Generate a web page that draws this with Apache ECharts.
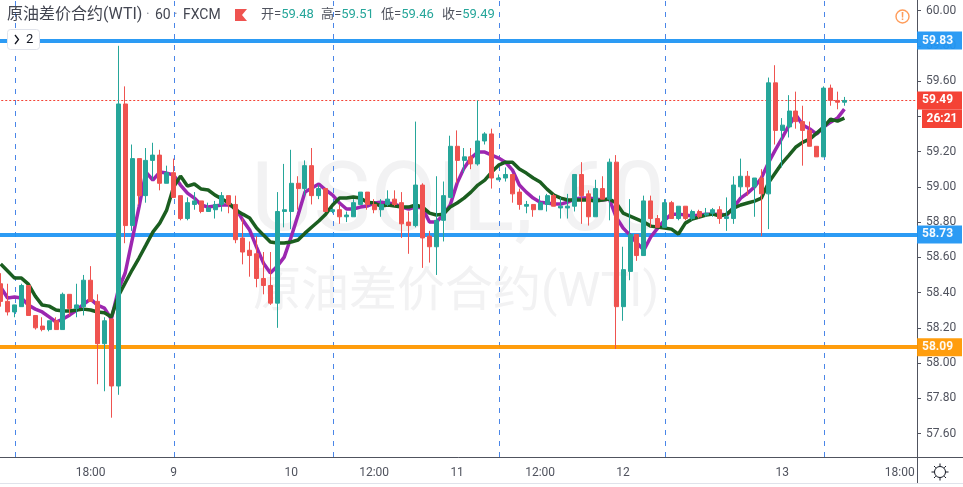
<!DOCTYPE html>
<html><head><meta charset="utf-8">
<style>html,body{margin:0;padding:0;background:#fff}#c{width:963px;height:487px}</style>
<script src="https://cdn.jsdelivr.net/npm/echarts@6/dist/echarts.min.js"></script>
</head><body><div id="c"></div>
<script>
const opens=[58.45,58.35,58.29,58.32,58.44,58.27,58.21,58.19,58.24,58.19,58.39,58.31,58.32,58.47,58.35,58.11,58.25,57.87,59.47,58.78,59.16,58.95,59.15,59.18,59.02,59.08,58.95,58.82,58.90,58.92,58.86,58.87,58.90,58.95,58.90,58.71,58.64,58.62,58.48,58.44,58.34,58.86,58.86,59.02,58.99,59.12,58.95,58.99,58.86,58.87,58.83,58.83,58.90,58.97,58.90,58.87,58.90,58.93,58.91,58.80,58.78,59.01,58.72,58.66,58.81,58.94,59.23,59.15,59.17,59.13,59.26,59.30,59.04,59.05,59.07,58.97,58.89,58.90,58.87,58.90,58.95,58.88,58.88,58.89,59.07,58.96,58.83,58.99,58.93,59.14,58.32,58.52,58.73,58.61,58.92,58.82,58.77,58.91,58.82,58.89,58.82,58.86,58.84,58.85,58.87,58.82,58.82,59.00,59.06,59.00,59.05,58.96,59.59,59.32,59.34,59.43,59.37,59.32,59.23,59.17,59.56,59.49,59.48];
const closes=[58.35,58.29,58.33,58.44,58.27,58.20,58.19,58.24,58.19,58.39,58.31,58.33,58.47,58.35,58.11,58.24,57.87,59.47,58.78,59.16,58.95,59.15,59.18,59.02,59.08,58.94,58.82,58.91,58.92,58.86,58.88,58.90,58.95,58.90,58.70,58.63,58.61,58.48,58.44,58.34,58.86,58.87,59.02,58.99,59.12,58.95,58.99,58.86,58.87,58.83,58.84,58.91,58.97,58.90,58.87,58.90,58.93,58.90,58.79,58.78,59.01,58.71,58.66,58.81,58.95,59.23,59.15,59.17,59.13,59.26,59.30,59.05,59.05,59.07,58.96,58.90,58.90,58.87,58.91,58.95,58.89,58.89,58.89,59.07,58.95,58.83,58.99,58.93,59.14,58.32,58.53,58.73,58.61,58.92,58.82,58.77,58.91,58.82,58.89,58.82,58.86,58.83,58.85,58.87,58.82,58.83,59.01,59.06,59.00,59.05,58.96,59.59,59.32,59.35,59.43,59.37,59.32,59.23,59.17,59.56,59.49,59.48,59.49];
const lows=[58.32,58.27,58.26,58.32,58.27,58.19,58.18,58.18,58.19,58.19,58.27,58.26,58.27,58.35,57.88,57.84,57.69,57.82,58.68,58.75,58.90,58.91,59.04,58.98,59.02,58.94,58.81,58.81,58.87,58.85,58.86,58.82,58.86,58.85,58.68,58.56,58.49,58.43,58.39,58.33,58.20,58.77,58.76,58.87,58.95,58.90,58.93,58.86,58.85,58.79,58.80,58.83,58.90,58.87,58.85,58.83,58.89,58.89,58.71,58.62,58.77,58.54,58.57,58.50,58.69,58.94,59.02,59.08,59.10,59.12,59.24,58.99,59.04,59.03,58.91,58.87,58.85,58.83,58.87,58.86,58.89,58.82,58.82,58.86,58.79,58.78,58.83,58.93,58.81,58.08,58.24,58.47,58.58,58.61,58.77,58.77,58.77,58.82,58.81,58.81,58.81,58.82,58.83,58.83,58.79,58.75,58.79,58.94,58.95,58.83,58.72,58.76,59.24,59.11,59.28,59.33,59.12,59.23,59.17,59.17,59.46,59.44,59.46];
const highs=[58.51,58.45,58.33,58.45,58.44,58.27,58.26,58.24,58.26,58.40,58.39,58.45,58.50,58.55,58.39,58.26,58.25,59.80,59.57,59.24,59.16,59.22,59.25,59.21,59.12,59.16,58.95,58.94,58.97,58.92,58.91,58.92,58.97,58.95,58.95,58.82,58.69,58.72,58.63,58.63,58.97,59.13,59.21,59.06,59.15,59.22,59.01,58.99,58.88,58.90,58.86,58.93,58.97,58.97,58.93,58.93,58.98,58.98,58.97,58.86,59.37,59.02,58.75,59.06,59.03,59.29,59.32,59.22,59.22,59.49,59.31,59.33,59.07,59.11,59.07,58.99,58.92,58.90,58.95,58.96,58.96,58.94,58.96,59.07,59.14,58.98,59.04,59.06,59.16,59.18,58.66,58.93,58.73,58.95,58.95,58.84,58.93,58.92,58.89,58.89,58.87,58.87,58.88,58.88,58.89,58.94,59.06,59.16,59.09,59.05,59.10,59.62,59.69,59.39,59.52,59.54,59.46,59.37,59.23,59.57,59.58,59.54,59.51];
const maFast=[58.431,58.369,58.375,58.369,58.329,58.306,58.290,58.262,58.233,58.250,58.273,58.301,58.335,58.363,58.329,58.312,58.250,58.414,58.511,58.698,58.885,59.084,59.038,59.084,59.078,59.067,59.010,58.964,58.936,58.897,58.885,58.891,58.897,58.897,58.879,58.811,58.755,58.658,58.567,58.511,58.550,58.601,58.715,58.840,58.970,58.993,59.016,58.982,58.953,58.908,58.874,58.874,58.885,58.891,58.908,58.913,58.908,58.902,58.885,58.874,58.885,58.879,58.800,58.800,58.840,58.897,59.021,59.106,59.163,59.197,59.197,59.180,59.163,59.140,59.095,59.010,58.970,58.936,58.913,58.908,58.902,58.902,58.913,58.931,58.936,58.936,58.931,58.925,58.931,58.828,58.766,58.726,58.681,58.641,58.715,58.766,58.811,58.845,58.845,58.840,58.834,58.840,58.845,58.845,58.845,58.840,58.885,58.936,58.964,58.999,59.050,59.135,59.208,59.277,59.350,59.407,59.350,59.328,59.299,59.339,59.367,59.390,59.441];
const maSlow=[58.562,58.522,58.482,58.482,58.448,58.380,58.329,58.323,58.301,58.295,58.295,58.301,58.306,58.301,58.290,58.285,58.262,58.380,58.454,58.528,58.596,58.669,58.743,58.794,58.868,58.999,59.061,59.004,59.016,58.987,58.982,58.953,58.931,58.908,58.868,58.845,58.823,58.766,58.726,58.687,58.681,58.681,58.687,58.698,58.737,58.772,58.806,58.845,58.897,58.936,58.936,58.942,58.936,58.913,58.908,58.891,58.897,58.891,58.885,58.885,58.897,58.885,58.851,58.840,58.845,58.885,58.908,58.936,58.970,59.010,59.038,59.084,59.123,59.140,59.140,59.101,59.078,59.050,59.027,58.987,58.953,58.936,58.925,58.925,58.925,58.925,58.919,58.925,58.931,58.908,58.851,58.834,58.817,58.800,58.777,58.772,58.766,58.760,58.732,58.794,58.817,58.828,58.840,58.845,58.834,58.845,58.879,58.897,58.908,58.919,58.936,59.021,59.078,59.135,59.180,59.226,59.254,59.271,59.305,59.339,59.384,59.373,59.390];
const bandCount=133;
const categories=Array.from({length:bandCount},(_,i)=>'c'+i);
const tickIndexes=[13,25,42,54,66,78,90,113,130];
const tickLabels=['18:00','9','10','12:00','11','12:00','12','13','18:00'];
const separatorIndexes=[2,25,48,72,96,119];
const priceTicks=[57.6,57.8,58.0,58.2,58.4,58.6,58.8,59.0,59.2,59.4,59.6,59.8,60.0];
const supportLevels=[{v:59.826,c:'#2196f3'},{v:58.727,c:'#2196f3'},{v:58.09,c:'#ff9800'}];
const lastPrice=59.49;
const priceMin=57.467, priceMax=60.06;
const FONT='Roboto, "Noto Sans CJK SC", sans-serif';
const AX='#50535e';
const flagPoints=[[235,9],[247,9],[242,15],[247,21],[235,21]];
const sunTicks=[0,45,90,135,180,225,270,315].map(a=>{const r=a*Math.PI/180;return {type:'line',silent:true,z:30,shape:{x1:940+6*Math.cos(r),y1:472+6*Math.sin(r),x2:940+8.5*Math.cos(r),y2:472+8.5*Math.sin(r)},style:{stroke:'#131722',lineWidth:1}}});
const txt=(x,y,text,size,fill,extra)=>Object.assign({type:'text',x,y,silent:true,z:30,style:{text,font:size+'px '+FONT,fill,textVerticalAlign:'middle'}},extra||{});
const ohlcRow=(x,name,val)=>({type:'text',x,y:15,z:30,silent:true,style:{text:'{a|'+name+'=}{b|'+val+'}',verticalAlign:'middle',rich:{a:{fill:AX,font:'13px '+FONT},b:{fill:'#26a69a',font:'13px '+FONT}}}});
const chart=echarts.init(document.getElementById('c'),null,{renderer:'canvas'});
chart.setOption({
 animation:false,
 backgroundColor:'#fff',
 grid:[
  {left:-2.76,width:919.76,top:0,height:457,outerBoundsMode:'none'},
  {left:-1.76,width:919.76,top:0,height:457,show:false,outerBoundsMode:'none'}
 ],
 xAxis:[
  {type:'category',gridIndex:0,data:categories,boundaryGap:true,
   axisLine:{lineStyle:{color:AX,width:1}},
   axisTick:{alignWithLabel:true,length:4,interval:(i)=>tickIndexes.includes(i),lineStyle:{color:AX}},
   axisLabel:{interval:(i)=>tickIndexes.includes(i),formatter:(v,i)=>{const k=tickIndexes.indexOf(i);return k>=0?tickLabels[k]:''},color:AX,fontFamily:FONT,fontSize:12,margin:10},
   splitLine:{show:false}},
  {type:'category',gridIndex:1,data:categories,show:false}
 ],
 yAxis:[
  {type:'value',gridIndex:0,position:'right',min:priceMin,max:priceMax,scale:true,
   axisLine:{show:true,lineStyle:{color:AX,width:1}},
   axisTick:{show:true,length:4,customValues:priceTicks,lineStyle:{color:AX}},
   axisLabel:{customValues:priceTicks,formatter:(v)=>v.toFixed(2),color:AX,fontFamily:FONT,fontSize:12,margin:9},
   splitLine:{show:false}},
  {type:'value',gridIndex:1,min:priceMin,max:priceMax,show:false}
 ],
 graphic:[
  {type:'group',silent:true,z:-5,children:[
   {type:'text',x:458,y:206,z:-5,style:{text:'USOIL, 60',font:'96px '+FONT,fill:'#f2f2f3',align:'center',verticalAlign:'middle'}},
   {type:'text',x:456,y:294,z:-5,style:{text:'原油差价合约(WTI)',font:'48px '+FONT,fill:'#f2f2f3',align:'center',verticalAlign:'middle'}}
  ]},
  txt(7,15,'原油差价合约(WTI)',16,'#434651'),
  txt(146,15,'·',14,'#9598a1'),
  txt(155,15,'60',14,'#434651'),
  txt(174,15,'·',14,'#9598a1'),
  txt(183,15,'FXCM',14,'#434651'),
  {type:'polygon',silent:true,z:30,shape:{points:flagPoints},style:{fill:'#ef5350'}},
  ohlcRow(261,'开','59.48'),ohlcRow(321,'高','59.51'),ohlcRow(381,'低','59.46'),ohlcRow(442,'收','59.49'),
  {type:'rect',silent:true,z:30,shape:{x:7.5,y:29.5,width:32,height:20,r:3},style:{fill:'#fff',stroke:'#e0e3eb',lineWidth:1}},
  {type:'polyline',silent:true,z:31,shape:{points:[[15,35],[18.5,39.5],[15,44]]},style:{stroke:'#131722',lineWidth:1.3,fill:null}},
  txt(26,40,'2',13,'#131722'),
  {type:'circle',silent:true,z:30,shape:{cx:902.5,cy:16.5,r:6.5},style:{fill:'#fff',stroke:'#ff9c5a',lineWidth:1.4}},
  {type:'text',silent:true,z:31,x:902.5,y:17,style:{text:'!',font:'bold 11px '+FONT,fill:'#ff9c5a',align:'center',verticalAlign:'middle'}},
  {type:'rect',silent:true,z:40,shape:{x:922,y:109.5,width:40,height:18.5},style:{fill:'#f44336'}},
  {type:'text',silent:true,z:41,x:942,y:119,style:{text:'26:21',font:'bold 12px '+FONT,fill:'#fff',align:'center',verticalAlign:'middle'}},
  {type:'line',silent:true,z:30,shape:{x1:917,y1:457.5,x2:963,y2:457.5},style:{stroke:AX,lineWidth:1}},
  {type:'line',silent:true,z:30,shape:{x1:917.5,y1:457,x2:917.5,y2:483},style:{stroke:AX,lineWidth:1}},
  {type:'rect',silent:true,z:30,shape:{x:0,y:483,width:963,height:1},style:{fill:'#e0e3eb'}},
  {type:'circle',silent:true,z:30,shape:{cx:940,cy:472,r:5.5},style:{fill:'#fff',stroke:'#131722',lineWidth:1}},
  ...sunTicks
 ],
 series:[
  {type:'line',name:'separators',xAxisIndex:1,yAxisIndex:1,data:[],silent:true,symbol:'none',
   markLine:{silent:true,symbol:'none',z:1,animation:false,label:{show:false},
    lineStyle:{color:'#4a86e8',type:[5,6],width:1},
    data:separatorIndexes.map(i=>({xAxis:i}))}},
  {type:'line',name:'MA fast',data:maFast,z:6,showSymbol:false,symbol:'none',smooth:false,silent:true,
   lineStyle:{color:'#9c27b0',width:3.5},
   markLine:{silent:true,symbol:'none',z:2,animation:false,
    data:supportLevels.map(l=>({yAxis:l.v,lineStyle:{color:l.c,width:4,type:'solid',opacity:0.95},
       label:{show:true,position:'end',distance:0,formatter:l.v.toFixed(2),backgroundColor:l.c,color:'#fff',fontFamily:FONT,fontWeight:'bold',fontSize:12,width:35,height:12,lineHeight:12,align:'left',padding:[3,5,3,5]}}))
     .concat([{yAxis:lastPrice,lineStyle:{color:'#f44336',width:1,type:[2,2]},
       label:{show:true,position:'end',distance:0,formatter:lastPrice.toFixed(2),backgroundColor:'#f44336',color:'#fff',fontFamily:FONT,fontWeight:'bold',fontSize:12,width:35,height:12,lineHeight:12,align:'left',padding:[3,5,3,5]}}])}},
  {type:'line',name:'MA slow',data:maSlow,z:7,showSymbol:false,symbol:'none',smooth:false,silent:true,
   lineStyle:{color:'#1b5e20',width:3.5}},
  {type:'candlestick',name:'USOIL',z:10,barWidth:4.5,silent:true,
   data:opens.map((o,i)=>[o,closes[i],lows[i],highs[i]]),
   itemStyle:{color:'#26a69a',color0:'#ef5350',borderColor:'#26a69a',borderColor0:'#ef5350',borderWidth:1}}
 ]
});
</script></body></html>
